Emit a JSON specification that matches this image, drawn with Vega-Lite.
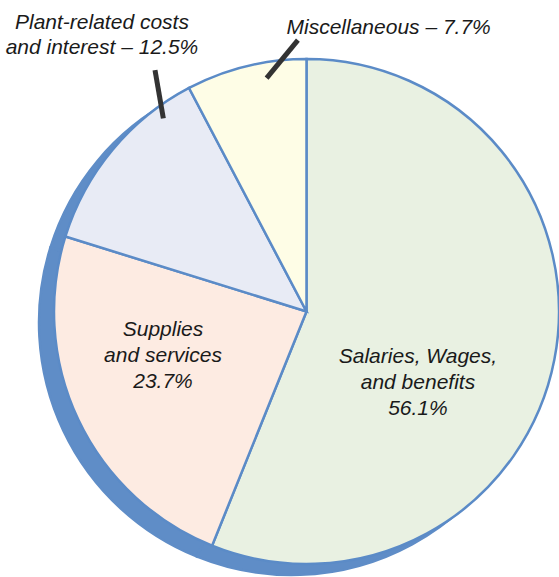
{
  "$schema": "https://vega.github.io/schema/vega-lite/v6.json",
  "width": 505,
  "height": 505,
  "autosize": {"type": "none"},
  "padding": {"left": 54, "top": 59, "right": 0, "bottom": 13},
  "background": "white",
  "config": {"view": {"stroke": null}},
  "datasets": {
    "slices": [
      {"category": "Salaries, Wages, and benefits", "share": 56.1, "order": 1, "label": "Salaries, Wages,\nand benefits\n56.1%"},
      {"category": "Supplies and services", "share": 23.7, "order": 2, "label": "Supplies\nand services\n23.7%"},
      {"category": "Plant-related costs and interest", "share": 12.5, "order": 3, "label": "Plant-related costs\nand interest – 12.5%"},
      {"category": "Miscellaneous", "share": 7.7, "order": 4, "label": "Miscellaneous – 7.7%"}
    ],
    "leaders": [
      {"category": "Plant-related costs and interest", "x": -0.567, "y": 0.765, "x2": -0.600, "y2": 0.956},
      {"category": "Miscellaneous", "x": -0.158, "y": 0.924, "x2": -0.034, "y2": 1.075}
    ]
  },
  "data": {"name": "slices"},
  "encoding": {
    "theta": {"field": "share", "type": "quantitative", "stack": true},
    "order": {"field": "order", "type": "quantitative"}
  },
  "layer": [
    {
      "mark": {"type": "arc", "fill": "#5F8DC7", "stroke": "#5F8DC7", "strokeWidth": 2.5, "xOffset": -15, "yOffset": 11}
    },
    {
      "mark": {"type": "arc", "stroke": "#5B8BC7", "strokeWidth": 2.5},
      "encoding": {
        "color": {
          "field": "category",
          "type": "nominal",
          "legend": null,
          "scale": {
            "domain": ["Salaries, Wages, and benefits", "Supplies and services", "Plant-related costs and interest", "Miscellaneous"],
            "range": ["#E9F1E2", "#FDEBE2", "#E8EBF5", "#FEFDE6"]
          }
        }
      }
    },
    {
      "data": {"name": "leaders"},
      "mark": {"type": "rule", "stroke": "#333333", "strokeWidth": 5, "strokeCap": "butt"},
      "encoding": {
        "theta": null,
        "order": null,
        "x": {"field": "x", "type": "quantitative", "scale": {"domain": [-1, 1]}, "axis": null},
        "y": {"field": "y", "type": "quantitative", "scale": {"domain": [-1, 1]}, "axis": null},
        "x2": {"field": "x2"},
        "y2": {"field": "y2"}
      }
    },
    {
      "mark": {"type": "text", "font": "Liberation Sans", "fontStyle": "italic", "fontSize": 21, "lineHeight": 26, "lineBreak": "\n", "align": "center", "baseline": "middle", "color": "#1a1a1a", "radius": 140, "dx": -26, "dy": 19},
      "encoding": {"text": {"condition": {"test": "datum.order === 1", "field": "label"}, "value": ""}}
    },
    {
      "mark": {"type": "text", "font": "Liberation Sans", "fontStyle": "italic", "fontSize": 21, "lineHeight": 26, "lineBreak": "\n", "align": "center", "baseline": "middle", "color": "#1a1a1a", "radius": 140, "dx": -17, "dy": -42},
      "encoding": {"text": {"condition": {"test": "datum.order === 2", "field": "label"}, "value": ""}}
    },
    {
      "mark": {"type": "text", "font": "Liberation Sans", "fontStyle": "italic", "fontSize": 21, "lineHeight": 25, "lineBreak": "\n", "align": "center", "baseline": "middle", "color": "#1a1a1a", "radius": 300, "dx": 26, "dy": -97},
      "encoding": {"text": {"condition": {"test": "datum.order === 3", "field": "label"}, "value": ""}}
    },
    {
      "mark": {"type": "text", "font": "Liberation Sans", "fontStyle": "italic", "fontSize": 21, "lineHeight": 26, "lineBreak": "\n", "align": "center", "baseline": "middle", "color": "#1a1a1a", "radius": 300, "dx": 154, "dy": 8},
      "encoding": {"text": {"condition": {"test": "datum.order === 4", "field": "label"}, "value": ""}}
    }
  ]
}
